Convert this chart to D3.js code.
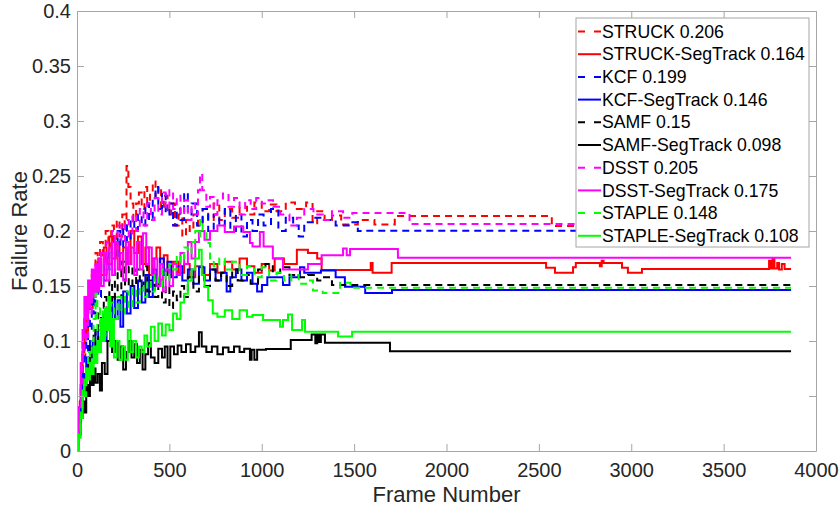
<!DOCTYPE html>
<html>
<head>
<meta charset="utf-8">
<script src="https://cdn.jsdelivr.net/npm/d3@7"></script>
<style>
  html, body { margin: 0; padding: 0; background: #fff; }
  svg { display: block; font-family: "Liberation Sans", Arial, Helvetica, sans-serif; }
</style>
</head>
<body>
<svg id="chart" width="840" height="510"></svg>
<script>
// ---------------- data ----------------
const xTicks = [0, 500, 1000, 1500, 2000, 2500, 3000, 3500, 4000];
const yTicks = [0, 0.05, 0.1, 0.15, 0.2, 0.25, 0.3, 0.35, 0.4];
const yTickLabels = ["0", "0.05", "0.1", "0.15", "0.2", "0.25", "0.3", "0.35", "0.4"];

const seriesLabels = ["STRUCK 0.206", "STRUCK-SegTrack 0.164", "KCF 0.199", "KCF-SegTrack 0.146",
  "SAMF 0.15", "SAMF-SegTrack 0.098", "DSST 0.205", "DSST-SegTrack 0.175", "STAPLE 0.148", "STAPLE-SegTrack 0.108"];
const seriesColors = ["#ff0000", "#ff0000", "#0000ff", "#0000ff", "#000000", "#000000",
  "#ff00ff", "#ff00ff", "#00ff00", "#00ff00"];
const seriesDashed = [true, false, true, false, true, false, true, false, true, false];

// [frame, failure rate]
const struck = [[0,0],[8,0.02],[15,0.045],[22,0.07],[30,0.1],[38,0.085],[45,0.12],[55,0.11],[62,0.14],[70,0.125],[80,0.16],[90,0.145],[100,0.18],[112,0.165],[125,0.19],[140,0.175],[155,0.2],[170,0.185],[185,0.205],[200,0.19],[215,0.21],[230,0.195],[245,0.215],[258,0.2],[268,0.259],[278,0.24],[290,0.225],[305,0.21],[320,0.225],[335,0.235],[350,0.22],[365,0.24],[380,0.225],[395,0.235],[410,0.245],[425,0.23],[440,0.24],[455,0.22],[470,0.232],[490,0.215],[510,0.225],[530,0.205],[550,0.215],[570,0.195],[590,0.21],[610,0.2],[630,0.215],[655,0.205],[680,0.22],[710,0.21],[740,0.225],[770,0.21],[800,0.22],[840,0.212],[880,0.222],[920,0.215],[960,0.226],[1000,0.218],[1040,0.224],[1080,0.218],[1130,0.226],[1180,0.22],[1240,0.226],[1275,0.207],[1300,0.218],[1340,0.21],[1380,0.214],[1430,0.206],[1520,0.21],[1610,0.206],[1720,0.2136],[2570,0.2045],[3865,0.2045]];

const struckSeg = [[0,0],[10,0.03],[20,0.06],[30,0.09],[40,0.12],[50,0.105],[60,0.14],[70,0.13],[85,0.16],[100,0.145],[115,0.175],[130,0.16],[145,0.185],[160,0.17],[175,0.195],[190,0.175],[210,0.19],[230,0.165],[250,0.185],[270,0.17],[290,0.2],[310,0.18],[330,0.195],[350,0.17],[370,0.185],[390,0.16],[410,0.175],[430,0.185],[450,0.165],[470,0.178],[490,0.16],[520,0.172],[550,0.162],[580,0.17],[610,0.158],[640,0.168],[680,0.16],[720,0.17],[760,0.162],[800,0.172],[840,0.165],[880,0.175],[920,0.168],[960,0.162],[1000,0.17],[1040,0.164],[1070,0.175],[1120,0.17],[1190,0.183],[1250,0.18],[1300,0.175],[1324,0.1645],[1590,0.171],[1600,0.162],[1703,0.171],[2539,0.1665],[2587,0.162],[2685,0.167],[2700,0.171],[2830,0.168],[2840,0.173],[2850,0.171],[2950,0.1665],[2982,0.162],[3058,0.1655],[3746,0.173],[3755,0.166],[3765,0.175],[3775,0.166],[3790,0.171],[3800,0.165],[3815,0.17],[3830,0.1655],[3865,0.1655]];

const kcf = [[0,0],[10,0.025],[20,0.05],[30,0.08],[40,0.1],[50,0.09],[60,0.12],[70,0.11],[80,0.14],[90,0.125],[100,0.155],[115,0.14],[130,0.17],[145,0.155],[160,0.18],[175,0.165],[190,0.19],[205,0.175],[220,0.2],[235,0.185],[250,0.205],[270,0.19],[290,0.21],[310,0.2],[330,0.215],[350,0.205],[370,0.225],[390,0.21],[410,0.23],[425,0.24],[440,0.22],[460,0.235],[480,0.215],[500,0.225],[520,0.205],[540,0.22],[560,0.21],[580,0.235],[600,0.215],[620,0.225],[650,0.205],[680,0.22],[710,0.2],[740,0.215],[770,0.205],[800,0.22],[830,0.2],[860,0.215],[890,0.195],[920,0.21],[950,0.2],[980,0.215],[1010,0.205],[1050,0.22],[1090,0.2],[1130,0.212],[1170,0.205],[1200,0.195],[1230,0.208],[1290,0.212],[1331,0.21],[1400,0.205],[1478,0.208],[1520,0.2],[1559,0.2003],[3865,0.2003]];

const kcfSeg = [[0,0],[10,0.02],[20,0.045],[30,0.07],[40,0.06],[50,0.085],[60,0.075],[70,0.1],[85,0.085],[100,0.11],[115,0.095],[130,0.12],[145,0.1],[160,0.13],[175,0.11],[190,0.14],[205,0.12],[220,0.137],[235,0.113],[250,0.145],[270,0.125],[290,0.15],[310,0.13],[330,0.155],[350,0.135],[370,0.16],[390,0.14],[410,0.165],[430,0.15],[450,0.175],[470,0.16],[490,0.172],[510,0.158],[540,0.168],[570,0.155],[600,0.165],[630,0.152],[660,0.167],[690,0.155],[720,0.165],[750,0.155],[780,0.162],[810,0.145],[830,0.158],[860,0.165],[890,0.155],[920,0.162],[950,0.152],[975,0.145],[1001,0.151],[1030,0.158],[1115,0.151],[1150,0.158],[1207,0.167],[1230,0.162],[1320,0.164],[1400,0.158],[1450,0.1494],[1560,0.1436],[1705,0.1464],[3865,0.1464]];

const samf = [[0,0],[10,0.02],[20,0.04],[30,0.065],[40,0.055],[50,0.08],[60,0.07],[70,0.095],[80,0.085],[90,0.11],[100,0.095],[115,0.125],[130,0.105],[145,0.14],[160,0.12],[175,0.155],[190,0.135],[205,0.165],[220,0.14],[240,0.172],[260,0.15],[280,0.168],[300,0.15],[320,0.165],[340,0.15],[360,0.168],[380,0.145],[400,0.16],[420,0.14],[440,0.155],[460,0.135],[480,0.15],[500,0.13],[520,0.145],[540,0.137],[560,0.15],[580,0.14],[600,0.158],[630,0.145],[660,0.16],[690,0.15],[720,0.165],[750,0.155],[780,0.162],[810,0.15],[840,0.165],[870,0.155],[900,0.16],[940,0.152],[980,0.165],[1020,0.17],[1060,0.162],[1100,0.167],[1150,0.16],[1200,0.158],[1250,0.16],[1300,0.155],[1330,0.158],[1380,0.151],[3865,0.1509]];

const samfSeg = [[0,0],[10,0.015],[20,0.03],[30,0.045],[40,0.035],[50,0.06],[60,0.05],[70,0.07],[80,0.06],[90,0.075],[100,0.062],[112,0.07],[124,0.055],[135,0.08],[150,0.07],[165,0.1],[179,0.119],[190,0.09],[205,0.1],[220,0.083],[235,0.095],[250,0.074],[265,0.09],[280,0.1],[295,0.085],[310,0.097],[325,0.08],[340,0.092],[355,0.074],[370,0.088],[385,0.098],[400,0.085],[420,0.08],[440,0.093],[460,0.085],[475,0.095],[490,0.076],[505,0.095],[525,0.088],[545,0.096],[565,0.09],[590,0.097],[615,0.09],[640,0.095],[660,0.108],[675,0.095],[700,0.09],[730,0.095],[760,0.088],[790,0.094],[820,0.09],[850,0.095],[880,0.09],[905,0.093],[936,0.083],[945,0.092],[960,0.083],[975,0.092],[1023,0.0927],[1157,0.101],[1270,0.106],[1290,0.098],[1300,0.106],[1310,0.099],[1320,0.106],[1342,0.0985],[1694,0.0906],[3865,0.0906]];

const dsst = [[0,0],[10,0.03],[20,0.06],[30,0.09],[40,0.12],[50,0.1],[60,0.14],[70,0.125],[80,0.155],[90,0.14],[100,0.17],[115,0.15],[130,0.18],[145,0.16],[160,0.19],[175,0.17],[190,0.2],[205,0.18],[220,0.205],[240,0.19],[260,0.21],[280,0.195],[300,0.215],[320,0.2],[340,0.22],[360,0.205],[380,0.225],[400,0.21],[420,0.23],[440,0.215],[460,0.235],[480,0.22],[500,0.237],[520,0.22],[540,0.232],[560,0.215],[580,0.228],[600,0.21],[620,0.225],[640,0.215],[655,0.237],[666,0.252],[678,0.237],[700,0.222],[720,0.231],[740,0.215],[760,0.228],[790,0.234],[820,0.222],[850,0.23],[880,0.215],[910,0.228],[940,0.22],[970,0.23],[1000,0.225],[1030,0.228],[1061,0.222],[1100,0.215],[1150,0.205],[1190,0.212],[1230,0.22],[1280,0.215],[1330,0.21],[1380,0.218],[1440,0.212],[1490,0.2164],[1800,0.2064],[3865,0.2064]];

const dsstSeg = [[0,0],[10,0.04],[20,0.08],[30,0.11],[40,0.14],[50,0.12],[60,0.155],[70,0.135],[80,0.165],[90,0.14],[100,0.17],[110,0.145],[120,0.175],[130,0.15],[145,0.18],[160,0.155],[175,0.185],[190,0.16],[205,0.19],[220,0.165],[235,0.18],[250,0.155],[265,0.19],[280,0.17],[295,0.185],[310,0.16],[325,0.19],[340,0.165],[357,0.198],[375,0.17],[390,0.185],[405,0.16],[420,0.175],[435,0.15],[450,0.17],[465,0.145],[480,0.165],[500,0.15],[520,0.17],[540,0.16],[560,0.18],[580,0.17],[600,0.19],[620,0.175],[640,0.19],[660,0.2],[690,0.192],[720,0.2],[760,0.205],[800,0.199],[850,0.204],[900,0.199],[936,0.189],[950,0.186],[990,0.199],[1010,0.186],[1060,0.175],[1115,0.165],[1190,0.165],[1250,0.17],[1324,0.178],[1400,0.178],[1440,0.184],[1460,0.178],[1478,0.1836],[1737,0.1757],[3865,0.1757]];

const staple = [[0,0],[10,0.015],[20,0.035],[30,0.06],[40,0.05],[50,0.075],[60,0.09],[70,0.08],[80,0.1],[90,0.12],[100,0.143],[110,0.11],[125,0.13],[140,0.105],[155,0.125],[170,0.115],[185,0.135],[200,0.12],[220,0.14],[240,0.125],[260,0.145],[280,0.13],[300,0.148],[320,0.135],[340,0.15],[360,0.14],[380,0.155],[400,0.145],[420,0.16],[440,0.15],[460,0.165],[480,0.155],[500,0.17],[520,0.165],[540,0.178],[560,0.172],[580,0.185],[600,0.18],[620,0.19],[640,0.2],[655,0.195],[666,0.21],[680,0.2],[700,0.189],[720,0.174],[740,0.168],[770,0.175],[800,0.165],[840,0.172],[880,0.16],[920,0.168],[960,0.158],[1000,0.167],[1040,0.155],[1080,0.162],[1120,0.155],[1160,0.16],[1200,0.152],[1240,0.155],[1277,0.146],[1330,0.1436],[1424,0.153],[1480,0.1485],[3865,0.1485]];

const stapleSeg = [[0,0],[10,0.012],[20,0.03],[30,0.05],[40,0.065],[50,0.075],[60,0.065],[70,0.08],[80,0.07],[90,0.095],[100,0.08],[110,0.1],[120,0.09],[130,0.12],[140,0.1],[150,0.13],[160,0.11],[170,0.14],[180,0.095],[190,0.12],[200,0.085],[215,0.1],[230,0.083],[245,0.095],[260,0.083],[275,0.11],[290,0.09],[305,0.1],[320,0.085],[335,0.095],[350,0.09],[365,0.105],[380,0.095],[400,0.113],[420,0.1],[440,0.116],[460,0.105],[480,0.115],[500,0.11],[520,0.125],[540,0.12],[560,0.135],[580,0.143],[600,0.155],[620,0.165],[640,0.175],[660,0.183],[675,0.16],[690,0.149],[710,0.137],[735,0.125],[760,0.122],[800,0.128],[840,0.12],[880,0.128],[920,0.122],[950,0.1236],[1007,0.119],[1099,0.113],[1115,0.119],[1142,0.124],[1164,0.11],[1218,0.119],[1234,0.1085],[1413,0.104],[1489,0.1085],[3865,0.1085]];

const seriesData = [struck, struckSeg, kcf, kcfSeg, samf, samfSeg, dsst, dsstSeg, staple, stapleSeg];

// ---------------- layout ----------------
const L = 77, R = 816, T = 11, B = 451;
const axisColor = "#a6a6a6", textColor = "#262626";
const svg = d3.select("#chart");

const x = d3.scaleLinear().domain([0, 4000]).range([L, R]);
const y = d3.scaleLinear().domain([0, 0.4]).range([B, T]);

svg.append("defs").append("clipPath").attr("id", "clip")
  .append("rect").attr("x", L).attr("y", T).attr("width", R - L).attr("height", B - T);

// lines
const line = d3.line().x(d => x(d[0])).y(d => y(d[1])).curve(d3.curveStepAfter);
const gLines = svg.append("g").attr("clip-path", "url(#clip)");
seriesData.forEach((data, i) => {
  gLines.append("path")
    .datum(data)
    .attr("d", line)
    .attr("fill", "none")
    .attr("stroke", seriesColors[i])
    .attr("stroke-width", 2)
    .attr("stroke-dasharray", seriesDashed[i] ? "7,5" : null);
});

// axes
function styleAxis(g) {
  g.select(".domain").attr("stroke", axisColor);
  g.selectAll(".tick line").attr("stroke", axisColor);
  g.selectAll(".tick text").attr("fill", textColor).style("font-size", "20px")
    .style("font-family", '"Liberation Sans", Arial, sans-serif');
}
svg.append("g").attr("transform", `translate(0,${B})`)
  .call(d3.axisBottom(x).tickValues(xTicks).tickFormat(d3.format("d")).tickSize(-7).tickSizeOuter(0).tickPadding(12))
  .call(styleAxis);
svg.append("g").attr("transform", `translate(${L},0)`)
  .call(d3.axisLeft(y).tickValues(yTicks).tickFormat((d, i) => yTickLabels[i]).tickSize(-7).tickSizeOuter(0).tickPadding(6))
  .call(styleAxis);
svg.append("g").attr("transform", `translate(0,${T})`)
  .call(d3.axisTop(x).tickValues(xTicks).tickFormat("").tickSize(-7).tickSizeOuter(0))
  .call(styleAxis);
svg.append("g").attr("transform", `translate(${R},0)`)
  .call(d3.axisRight(y).tickValues(yTicks).tickFormat("").tickSize(-7).tickSizeOuter(0))
  .call(styleAxis);

// axis labels
svg.append("text").attr("x", (L + R) / 2).attr("y", 502).attr("text-anchor", "middle")
  .attr("fill", textColor).style("font-size", "22px").text("Frame Number");
svg.append("text").attr("transform", `translate(27,${(T + B) / 2}) rotate(-90)`).attr("text-anchor", "middle")
  .attr("fill", textColor).style("font-size", "22px").text("Failure Rate");

// legend
const lg = svg.append("g");
lg.append("rect").attr("x", 576).attr("y", 18).attr("width", 233).attr("height", 229)
  .attr("fill", "#fff").attr("stroke", axisColor).attr("stroke-width", 1);
seriesLabels.forEach((lab, i) => {
  const cy = 31.5 + i * 22.7;
  lg.append("line").attr("x1", 578).attr("x2", 601).attr("y1", cy).attr("y2", cy)
    .attr("stroke", seriesColors[i]).attr("stroke-width", 2)
    .attr("stroke-dasharray", seriesDashed[i] ? "7,9" : null);
  lg.append("text").attr("x", 602).attr("y", cy).attr("dy", "0.35em")
    .attr("fill", "#000").style("font-size", "17.7px").text(lab);
});
</script>
</body>
</html>
